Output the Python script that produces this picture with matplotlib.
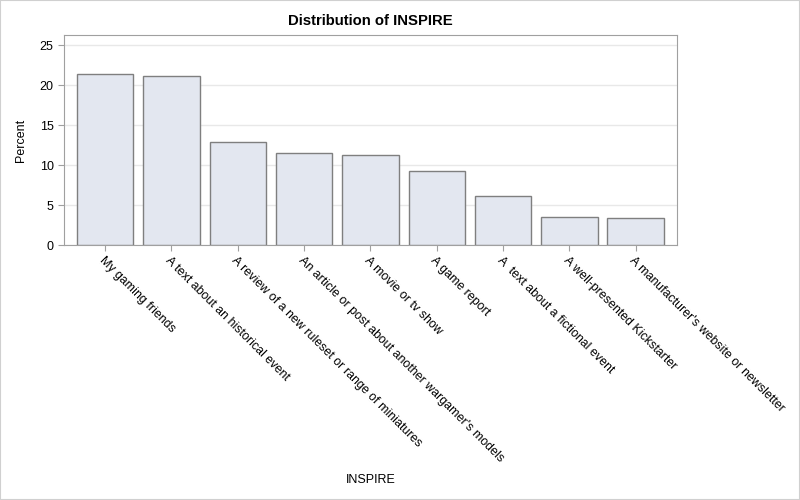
import matplotlib
matplotlib.use("Agg")
import matplotlib.pyplot as plt
from matplotlib.patches import Rectangle

categories = [
    "My gaming friends",
    "A text about an historical event",
    "A review of a new ruleset or range of miniatures",
    "An article or post about another wargamer's models",
    "A movie or tv show",
    "A game report",
    "A  text about a fictional event",
    "A well-presented Kickstarter",
    "A manufacturer's website or newsletter",
]
percent = [21.35, 21.15, 12.9, 11.5, 11.3, 9.2, 6.1, 3.45, 3.35]
yticks = [0, 5, 10, 15, 20, 25]

plt.rcParams['font.family'] = ['Liberation Sans', 'DejaVu Sans']

fig = plt.figure(figsize=(8, 5), dpi=100)
fig.patches.append(Rectangle((0, 0), 1, 1, transform=fig.transFigure,
                             fill=False, edgecolor='#D0D0D0', linewidth=1.5))
ax = fig.add_axes([0.08, 0.51, 0.766, 0.42])

x = list(range(len(categories)))
ax.bar(x, percent, width=0.85, color='#E3E7F0', edgecolor='#7F7F7F',
       linewidth=1.0, zorder=3)
ax.set_xlim(-0.62, len(categories) - 1 + 0.62)
ax.set_ylim(0, 26.25)
ax.set_yticks(yticks)
ax.set_yticklabels([str(t) for t in yticks], fontsize=9, color='#000000')
ax.set_xticks(x)
ax.set_xticklabels(categories, rotation=-45, ha='left', va='top',
                   rotation_mode='anchor', fontsize=8.9)
ax.grid(axis='y', color='#E8E8E8', linewidth=1, zorder=0)
for s in ax.spines.values():
    s.set_color('#A0A0A0')
ax.tick_params(axis='both', colors='#A0A0A0', labelcolor='#000000', length=4)
ax.tick_params(axis='x', pad=3)

ax.set_ylabel('Percent', fontsize=9, labelpad=9)
fig.text(0.463, 0.04, 'INSPIRE', ha='center', va='center', fontsize=9)
fig.text(0.463, 0.958, 'Distribution of INSPIRE', ha='center', va='center',
         fontsize=10.7, fontweight='bold')

fig.savefig('out.png', dpi=100)
